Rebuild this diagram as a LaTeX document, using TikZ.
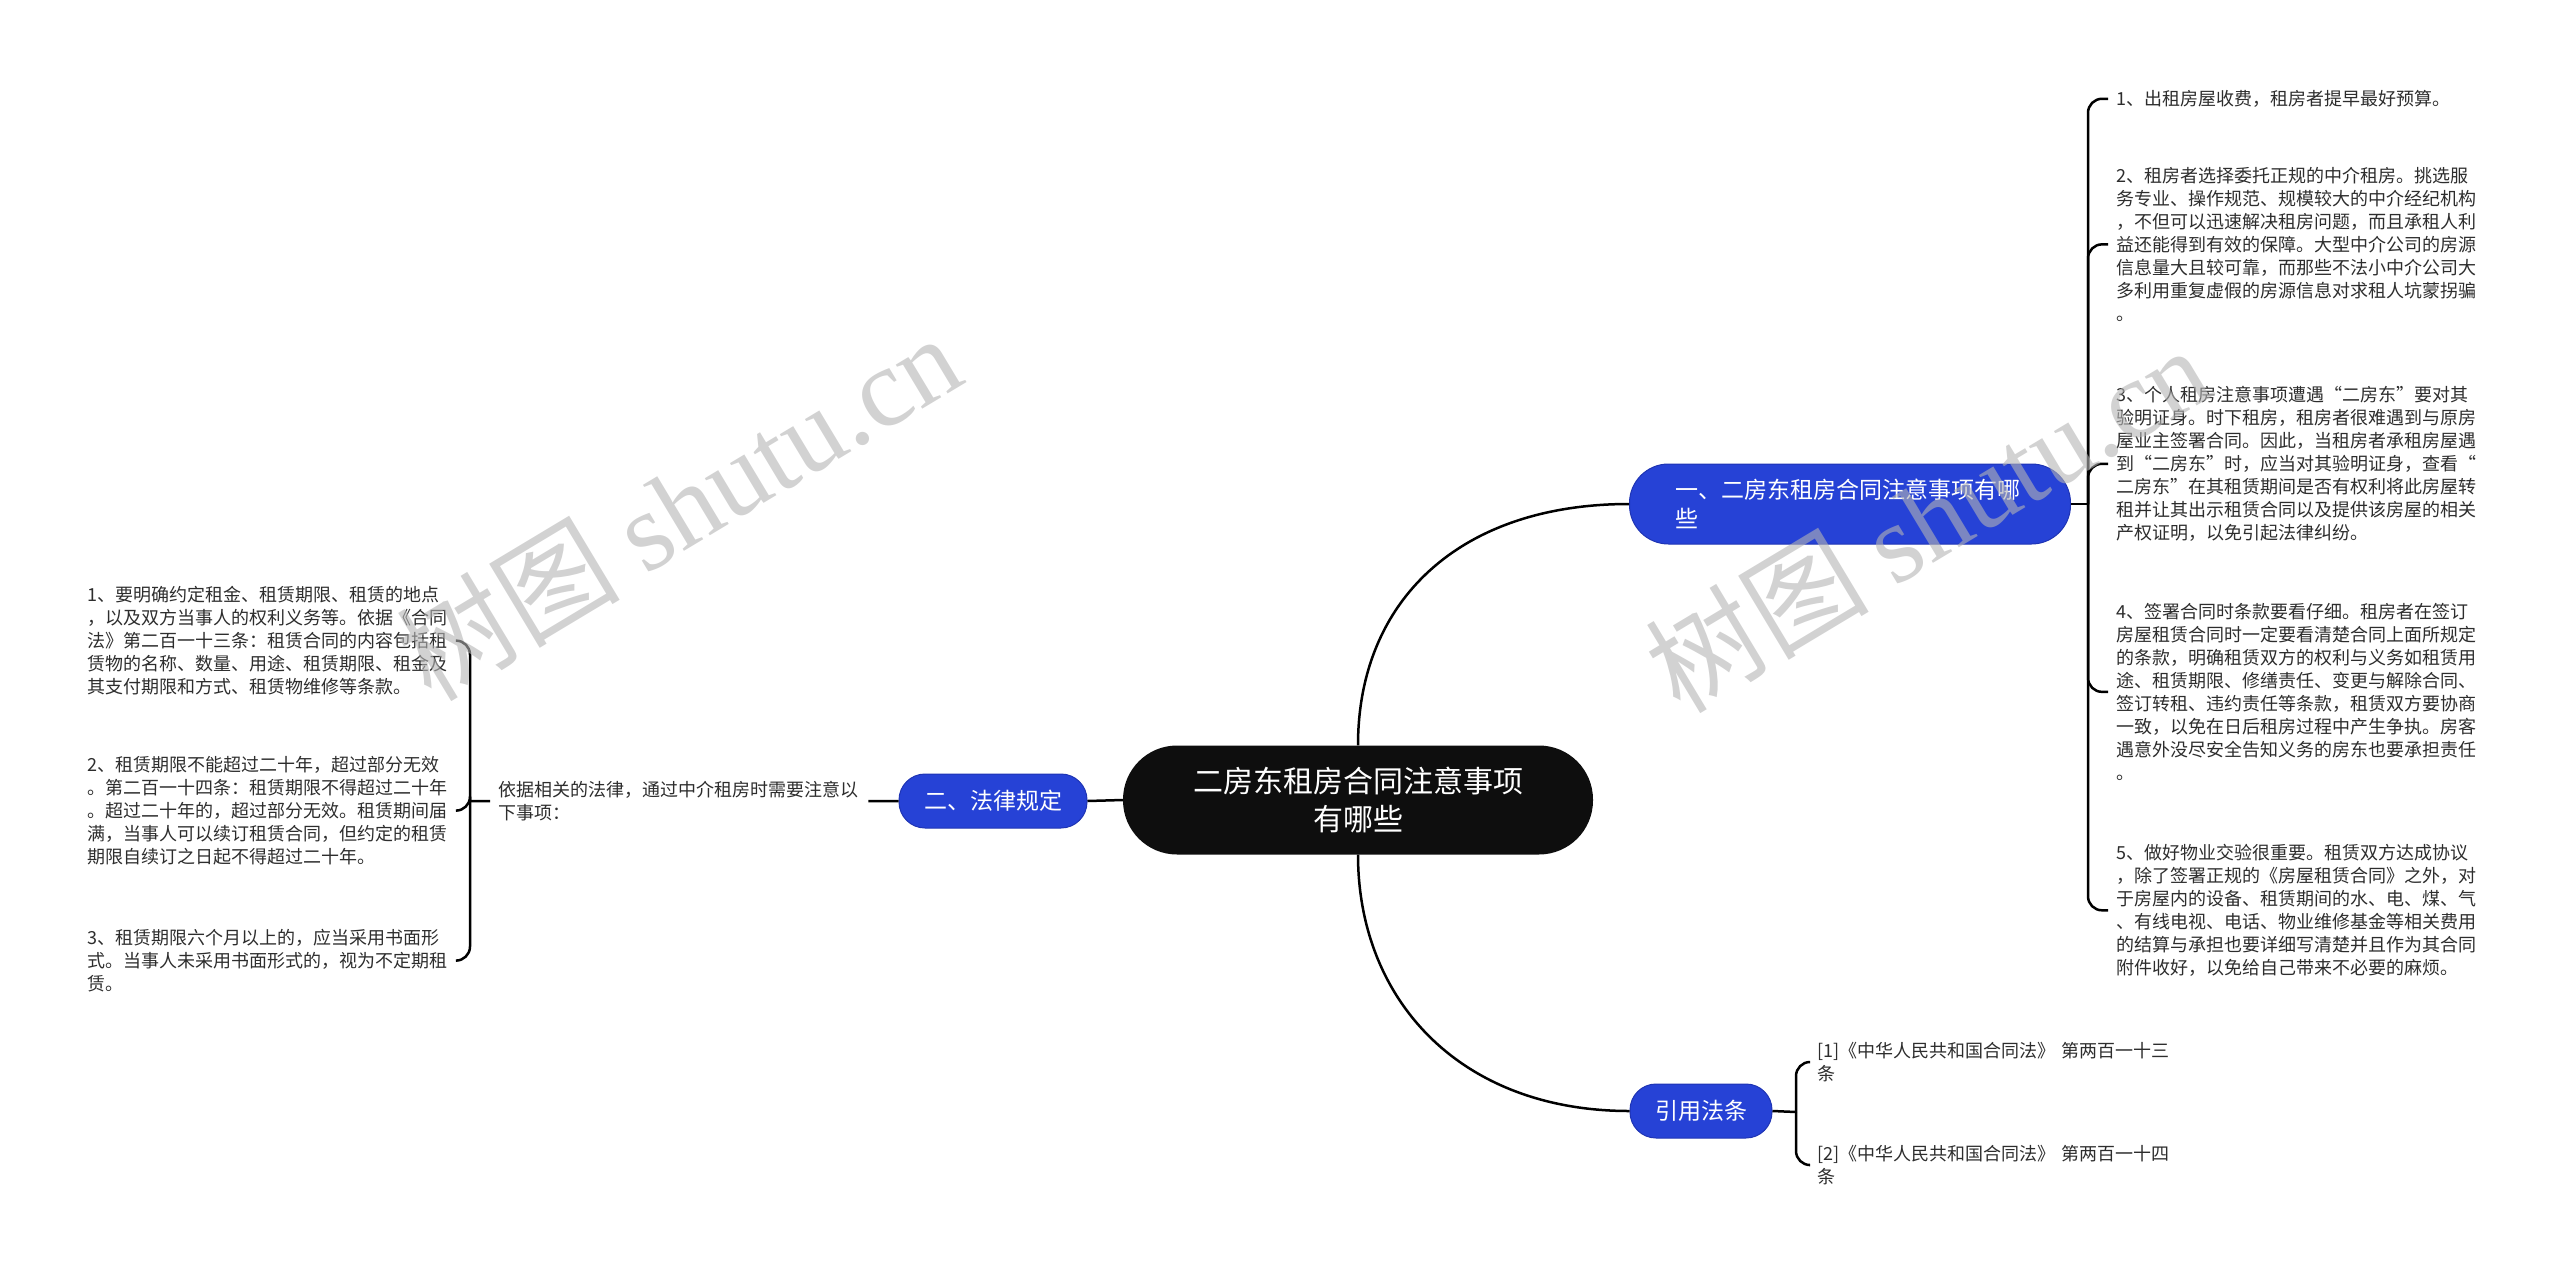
\documentclass[tikz,border=0pt]{standalone}
\usepackage{fontspec}
\setmainfont{Noto Sans CJK SC}
\newfontfamily\marklatin{Liberation Serif}
\definecolor{mapblue}{RGB}{38,66,214}
\definecolor{mapedge}{RGB}{30,52,180}
\definecolor{rootblack}{RGB}{14,14,14}
\definecolor{leafgray}{RGB}{45,45,45}
\definecolor{markgray}{RGB}{180,180,180}

\begin{document}
\begin{tikzpicture}[
    x=1pt, y=-1pt,
    topic/.style={fill=rootblack, text=white, rounded corners=54pt, minimum width=470pt, minimum height=109pt,
        align=center, inner sep=0pt, font=\fontsize{30}{38}\selectfont},
    branch/.style={fill=mapblue, draw=mapedge, line width=1pt, text=white, rounded corners=26pt,
        minimum height=54pt, inner xsep=25pt, inner ysep=0pt, font=\fontsize{23}{29}\selectfont},
    leaf/.style={text=leafgray, align=left, text width=364pt, inner xsep=8pt, inner ysep=0pt,
        anchor=north west, font=\fontsize{18}{23}\selectfont},
    edge/.style={line width=2.5pt},
    brace/.style={line width=2.5pt, rounded corners=14pt},
    wmark/.style={rotate=31, text=markgray, opacity=0.6, inner sep=0pt, font=\fontsize{112}{112}\selectfont}
]
    \useasboundingbox (0,0) rectangle (2560,1272);

    % centre and main branches
    \node[topic] (root) at (1358,800) {二房东租房合同注意事项\\有哪些};
    \node[branch, minimum width=441pt, minimum height=80pt, rounded corners=39pt, text width=350pt, align=left]
        (tips) at (1850,504) {一、二房东租房合同注意事项有哪\\些};
    \node[branch] (law) at (993,801) {二、法律规定};
    \node[branch] (cite) at (1701,1111) {引用法条};

    \draw[edge] (root.north) .. controls (1358,600) and (1460,504) .. (tips.west);
    \draw[edge] (root.south) .. controls (1358,1000) and (1460,1111) .. (cite.west);
    \draw[edge] (root.west) -- (law.east);

    % tips
    \node[leaf] (t1) at (2108,90) {1、出租房屋收费，租房者提早最好预算。};
    \node[leaf] (t2) at (2108,167) {2、租房者选择委托正规的中介租房。挑选服\\务专业、操作规范、规模较大的中介经纪机构\\，不但可以迅速解决租房问题，而且承租人利\\益还能得到有效的保障。大型中介公司的房源\\信息量大且较可靠，而那些不法小中介公司大\\多利用重复虚假的房源信息对求租人坑蒙拐骗\\。};
    \node[leaf] (t3) at (2108,386) {3、个人租房注意事项遭遇“二房东”要对其\\验明证身。时下租房，租房者很难遇到与原房\\屋业主签署合同。因此，当租房者承租房屋遇\\到“二房东”时，应当对其验明证身，查看“\\二房东”在其租赁期间是否有权利将此房屋转\\租并让其出示租赁合同以及提供该房屋的相关\\产权证明，以免引起法律纠纷。};
    \node[leaf] (t4) at (2108,603) {4、签署合同时条款要看仔细。租房者在签订\\房屋租赁合同时一定要看清楚合同上面所规定\\的条款，明确租赁双方的权利与义务如租赁用\\途、租赁期限、修缮责任、变更与解除合同、\\签订转租、违约责任等条款，租赁双方要协商\\一致，以免在日后租房过程中产生争执。房客\\遇意外没尽安全告知义务的房东也要承担责任\\。};
    \node[leaf] (t5) at (2108,844) {5、做好物业交验很重要。租赁双方达成协议\\，除了签署正规的《房屋租赁合同》之外，对\\于房屋内的设备、租赁期间的水、电、煤、气\\、有线电视、电话、物业维修基金等相关费用\\的结算与承担也要详细写清楚并且作为其合同\\附件收好，以免给自己带来不必要的麻烦。};

    \coordinate (jr) at (2088,504);
    \draw[edge] (tips.east) -- (jr);
    \foreach \n in {t1,t2,t3,t4,t5}
        \draw[brace] (jr) |- (\n.west);

    % law
    \node[leaf, text width=362pt] (lawnote) at (490,781) {依据相关的法律，通过中介租房时需要注意以\\下事项：};
    \draw[edge] (law.west) -- (lawnote.east);

    \node[leaf, text width=362pt] (l1) at (79,586) {1、要明确约定租金、租赁期限、租赁的地点\\，以及双方当事人的权利义务等。依据《合同\\法》第二百一十三条：租赁合同的内容包括租\\赁物的名称、数量、用途、租赁期限、租金及\\其支付期限和方式、租赁物维修等条款。};
    \node[leaf, text width=362pt] (l2) at (79,756) {2、租赁期限不能超过二十年，超过部分无效\\。第二百一十四条：租赁期限不得超过二十年\\。超过二十年的，超过部分无效。租赁期间届\\满，当事人可以续订租赁合同，但约定的租赁\\期限自续订之日起不得超过二十年。};
    \node[leaf, text width=362pt] (l3) at (79,929) {3、租赁期限六个月以上的，应当采用书面形\\式。当事人未采用书面形式的，视为不定期租\\赁。};

    \coordinate (jl) at (470,801);
    \draw[edge] (lawnote.west) -- (jl);
    \foreach \n in {l1,l2,l3}
        \draw[brace] (jl) |- (\n.east);

    % cite
    \node[leaf, text width=380pt] (c1) at (1809,1042) {[1]《中华人民共和国合同法》 第两百一十三\\条};
    \node[leaf, text width=380pt] (c2) at (1809,1145) {[2]《中华人民共和国合同法》 第两百一十四\\条};

    \coordinate (jc) at (1796,1112);
    \draw[edge] (cite.east) -- (jc);
    \foreach \n in {c1,c2}
        \draw[brace] (jc) |- (\n.west);

    % watermark
    \node[wmark] at (678,506) {树图 {\marklatin shutu.cn}};
    \node[wmark] at (1927,518) {树图 {\marklatin shutu.cn}};
\end{tikzpicture}
\end{document}
